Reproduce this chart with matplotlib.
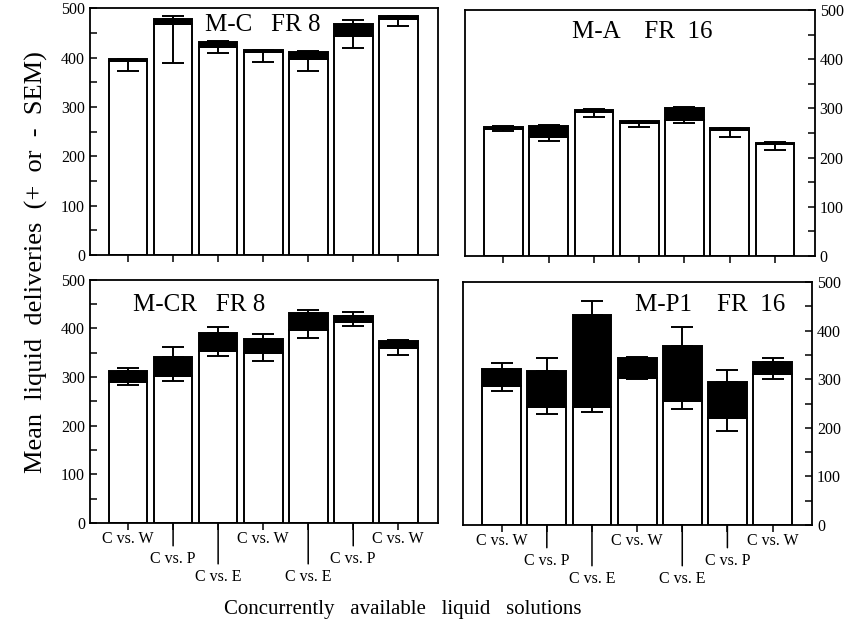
import matplotlib
matplotlib.use('Agg')
from matplotlib import pyplot as plt
from matplotlib.ticker import MultipleLocator

plt.rcParams['font.family'] = ['Liberation Serif', 'DejaVu Serif']

# tick labels under the bottom panels, staggered on three rows
labels = ['C vs. W', 'C vs. P', 'C vs. E', 'C vs. W', 'C vs. E', 'C vs. P', 'C vs. W']
levels = [0, 1, 2, 0, 2, 1, 0]

# M-C  FR 8
mc_white = [393, 468, 421, 411, 397, 443, 478]
mc_black = [4, 10, 10, 4, 14, 25, 6]
mc_white_sem = [21, 78, 11, 19, 25, 23, 15]
mc_black_sem = [1, 6, 2, 1, 2, 8, 1]

# M-A  FR 16
ma_white = [258, 241, 292, 270, 276, 255, 227]
ma_black = [5, 23, 5, 4, 24, 5, 3]
ma_white_sem = [5, 8, 9, 8, 5, 14, 11]
ma_black_sem = [1, 2, 1, 1, 2, 1, 1]

# M-CR  FR 8
mcr_white = [289, 303, 353, 349, 397, 414, 360]
mcr_black = [24, 38, 37, 30, 35, 12, 13]
mcr_white_sem = [6, 11, 9, 17, 16, 10, 15]
mcr_black_sem = [5, 21, 13, 9, 6, 7, 4]

# M-P1  FR 16
mp_white = [286, 242, 243, 303, 256, 221, 310]
mp_black = [35, 75, 190, 41, 113, 74, 25]
mp_white_sem = [11, 14, 10, 2, 18, 28, 9]
mp_black_sem = [13, 26, 28, 1, 39, 25, 8]


def draw_panel(ax, white, black, white_sem, black_sem, title, title_xy, right=False, xlabels=False):
    x = list(range(len(white)))
    top = [w + b for w, b in zip(white, black)]
    ax.bar(x, white, width=0.86, color='white', edgecolor='black', linewidth=1.4, zorder=2)
    ax.bar(x, black, width=0.86, bottom=white, color='black', edgecolor='black', linewidth=1.4, zorder=2)
    # - SEM on the white part, + SEM on the black part
    ax.errorbar(x, white, yerr=[white_sem, [0] * len(x)], fmt='none', ecolor='black',
                elinewidth=1.4, capsize=8, capthick=1.4, zorder=3)
    ax.errorbar(x, top, yerr=[[0] * len(x), black_sem], fmt='none', ecolor='black',
                elinewidth=1.4, capsize=8, capthick=1.4, zorder=3)

    ax.set_xlim(-0.85, 6.88)
    ax.set_ylim(0, 500)
    ax.yaxis.set_major_locator(MultipleLocator(100))
    ax.yaxis.set_minor_locator(MultipleLocator(50))
    for s in ax.spines.values():
        s.set_linewidth(1.3)
    if right:
        ax.yaxis.tick_right()
        ax.yaxis.set_ticks_position('right')
    ax.tick_params(axis='y', which='both', direction='in', length=5, width=1.1, labelsize=11.5)
    ax.set_xticks(x)
    ax.set_xticklabels([])
    ax.tick_params(axis='x', direction='out', length=5, width=1.1)

    ax.text(title_xy[0], title_xy[1], title, fontsize=18, ha='left', va='center', zorder=4)

    if xlabels:
        offsets = [6, 20, 33]
        for xi, lab, lev in zip(x, labels, levels):
            if lev == 0:
                ax.annotate(lab, xy=(xi, 0), xycoords=ax.get_xaxis_transform(),
                            xytext=(0, -offsets[lev]), textcoords='offset points',
                            ha='center', va='top', fontsize=11.5, annotation_clip=False)
            else:
                ax.annotate(lab, xy=(xi, 0), xycoords=ax.get_xaxis_transform(),
                            xytext=(0, -offsets[lev]), textcoords='offset points',
                            ha='center', va='top', fontsize=11.5, annotation_clip=False,
                            arrowprops=dict(arrowstyle='-', lw=1.1, color='black',
                                            shrinkA=1.5, shrinkB=0))


fig = plt.figure(figsize=(8.47, 6.3), dpi=100)
ax1 = fig.add_axes([0.106, 0.595, 0.411, 0.392])
ax2 = fig.add_axes([0.549, 0.594, 0.413, 0.390])
ax3 = fig.add_axes([0.106, 0.170, 0.411, 0.386])
ax4 = fig.add_axes([0.547, 0.167, 0.412, 0.385])

draw_panel(ax1, mc_white, mc_black, mc_white_sem, mc_black_sem, 'M-C   FR 8', (1.7, 466))
draw_panel(ax2, ma_white, ma_black, ma_white_sem, ma_black_sem, 'M-A    FR  16', (1.52, 455), right=True)
draw_panel(ax3, mcr_white, mcr_black, mcr_white_sem, mcr_black_sem, 'M-CR   FR 8', (0.11, 448), xlabels=True)
draw_panel(ax4, mp_white, mp_black, mp_white_sem, mp_black_sem, 'M-P1    FR  16', (2.95, 454), right=True, xlabels=True)

fig.text(0.043, 0.584, 'Mean  liquid  deliveries  (+  or  -  SEM)', rotation=90,
         ha='center', va='center', fontsize=19)
fig.text(0.475, 0.032, 'Concurrently   available   liquid   solutions',
         ha='center', va='center', fontsize=15)

fig.savefig('out.png', dpi=100)
